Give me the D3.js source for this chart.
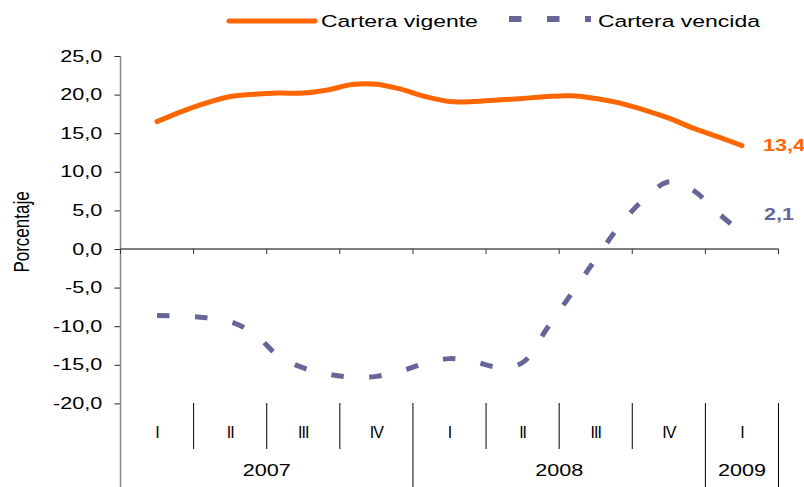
<!DOCTYPE html>
<html>
<head>
<meta charset="utf-8">
<script src="https://cdn.jsdelivr.net/npm/d3@7"></script>
<style>
  body { margin: 0; background: #fff; }
  text { font-family: "Liberation Sans", Arial, sans-serif; }
</style>
</head>
<body>
<div id="chart"></div>
<script>
  // Data: monthly growth rates (%), Feb 2007 - Feb 2009
  var months = ["feb-07", "mar-07", "abr-07", "may-07", "jun-07", "jul-07", "ago-07", "sep-07", "oct-07", "nov-07", "dic-07",
                "ene-08", "feb-08", "mar-08", "abr-08", "may-08", "jun-08", "jul-08", "ago-08", "sep-08", "oct-08", "nov-08", "dic-08",
                "ene-09", "feb-09"];
  var vigente = [16.5, 17.8, 18.9, 19.75, 20.05, 20.2, 20.2, 20.6, 21.3, 21.35, 20.7, 19.75,
                 19.1, 19.1, 19.3, 19.5, 19.75, 19.85, 19.5, 18.9, 18.0, 16.95, 15.65, 14.55, 13.4];
  var vencida = [-8.6, -8.7, -8.9, -9.4, -11.0, -13.9, -15.4, -16.2, -16.6, -16.5, -15.8, -14.8,
                 -14.2, -14.6, -15.3, -14.7, -10.3, -5.8, -1.3, 3.1, 6.5, 8.7, 7.6, 4.7, 2.1];

  // Axis labels
  var quarters = ["I", "II", "III", "IV", "I", "II", "III", "IV", "I"];
  var years = ["2007", "2008", "2009"];
  var quartersPerYear = [4, 4, 1];
  var yTicks = [-20, -15, -10, -5, 0, 5, 10, 15, 20, 25];

  var seriesNames = ["Cartera vigente", "Cartera vencida"];
  var seriesColors = ["#FF6600", "#666699"];

  var width = 804, height = 487;
  var SX = 1.35; // text in the source picture is drawn wider than normal

  var svg = d3.select("#chart").append("svg")
              .attr("width", width)
              .attr("height", height);

  // x in quarter units (0..9), y in percent
  var xScale = d3.scaleLinear().domain([0, quarters.length]).range([120.5, 778.5]);
  var yScale = d3.scaleLinear().domain([-20, 25]).range([403.4, 56]);

  // month index -> position in quarters (Feb 2007 sits mid Q1)
  function monthPos(i) { return (i + 1.5) / 3; }

  var fmt = d3.formatLocale({ decimal: ",", thousands: ".", grouping: [3], currency: ["", ""], minus: "-" }).format(".1f");

  // helper for stretched text
  function addText(g, x, y, str, size, anchor, sx) {
    return g.append("text")
            .attr("transform", "translate(" + x + "," + y + ") scale(" + (sx || SX) + ",1)")
            .attr("text-anchor", anchor)
            .attr("dy", "0.35em")
            .style("font-size", size + "px")
            .text(str);
  }

  // Y axis
  var yAxis = d3.axisLeft(yScale).tickValues(yTicks).tickSize(6).tickPadding(7.5).tickFormat(fmt);
  var gy = svg.append("g").attr("transform", "translate(120.5,0)").call(yAxis);
  gy.select(".domain").remove();
  gy.selectAll(".tick line").attr("stroke", "#222");
  gy.selectAll(".tick text")
    .attr("transform", "scale(" + SX + ",1)")
    .attr("fill", "#000")
    .style("font-size", "16px");

  svg.append("line")
     .attr("x1", 120.5).attr("x2", 120.5)
     .attr("y1", yScale(25)).attr("y2", height)
     .attr("stroke", "#888").attr("stroke-width", 1.5);

  // Zero line with quarter ticks
  var y0 = yScale(0);
  svg.append("line")
     .attr("x1", xScale(0)).attr("x2", xScale(quarters.length))
     .attr("y1", y0).attr("y2", y0)
     .attr("stroke", "#555").attr("stroke-width", 1.5);
  svg.selectAll("line.qtick")
     .data(d3.range(quarters.length + 1))
     .enter().append("line")
     .attr("class", "qtick")
     .attr("x1", function(d) { return xScale(d); })
     .attr("x2", function(d) { return xScale(d); })
     .attr("y1", y0).attr("y2", y0 + 5)
     .attr("stroke", "#333");

  // Y label
  svg.append("text")
     .attr("transform", "translate(20.5,232) scale(" + SX + ",1) rotate(-90)")
     .attr("text-anchor", "middle")
     .attr("dy", "0.35em")
     .style("font-size", "17px")
     .text("Porcentaje");

  // Category labels below plot
  var gx = svg.append("g");
  var yearStart = [];
  var acc = 0;
  quartersPerYear.forEach(function(n) { yearStart.push(acc); acc += n; });

  quarters.forEach(function(q, i) {
    addText(gx, xScale(i + 0.5), 432, q, 16, "middle", 1.0).style("letter-spacing", "-1px");
    // quarter dividers (skip the year boundaries)
    if (i > 0 && yearStart.indexOf(i) < 0) {
      gx.append("line")
        .attr("x1", xScale(i)).attr("x2", xScale(i))
        .attr("y1", 403).attr("y2", 449)
        .attr("stroke", "#000");
    }
  });

  years.forEach(function(yr, i) {
    var s = yearStart[i], e = s + quartersPerYear[i];
    addText(gx, xScale((s + e) / 2), 470, yr, 16, "middle");
    gx.append("line")
      .attr("x1", xScale(e)).attr("x2", xScale(e))
      .attr("y1", 403).attr("y2", height)
      .attr("stroke", "#000");
  });

  // Lines
  var line = d3.line()
               .x(function(d, i) { return xScale(monthPos(i)); })
               .y(function(d) { return yScale(d); })
               .curve(d3.curveCatmullRom);

  svg.append("path")
     .datum(vencida)
     .attr("d", line)
     .attr("fill", "none")
     .attr("stroke", seriesColors[1])
     .attr("stroke-width", 5)
     .attr("stroke-dasharray", "12.5,25.5");

  svg.append("path")
     .datum(vigente)
     .attr("d", line)
     .attr("fill", "none")
     .attr("stroke", seriesColors[0])
     .attr("stroke-width", 5)
     .attr("stroke-linecap", "round")
     .attr("stroke-linejoin", "round");

  // End value labels
  var last = months.length - 1;
  var lx = xScale(monthPos(last)) + 21;
  addText(svg, lx, yScale(vigente[last]), fmt(vigente[last]), 16, "start")
    .style("font-weight", "bold").attr("fill", seriesColors[0]);
  addText(svg, lx + 1, yScale(vencida[last]) - 18, fmt(vencida[last]), 16, "start")
    .style("font-weight", "bold").attr("fill", seriesColors[1]);

  // Legend
  var lg = svg.append("g");
  lg.append("line")
    .attr("x1", 229).attr("x2", 315).attr("y1", 21).attr("y2", 21)
    .attr("stroke", seriesColors[0]).attr("stroke-width", 5).attr("stroke-linecap", "round");
  addText(lg, 321, 21, seriesNames[0], 17, "start");
  lg.append("line")
    .attr("x1", 509).attr("x2", 591).attr("y1", 19).attr("y2", 19)
    .attr("stroke", seriesColors[1]).attr("stroke-width", 6).attr("stroke-dasharray", "12.5,25.5");
  addText(lg, 598, 21, seriesNames[1], 17, "start");
</script>
</body>
</html>
